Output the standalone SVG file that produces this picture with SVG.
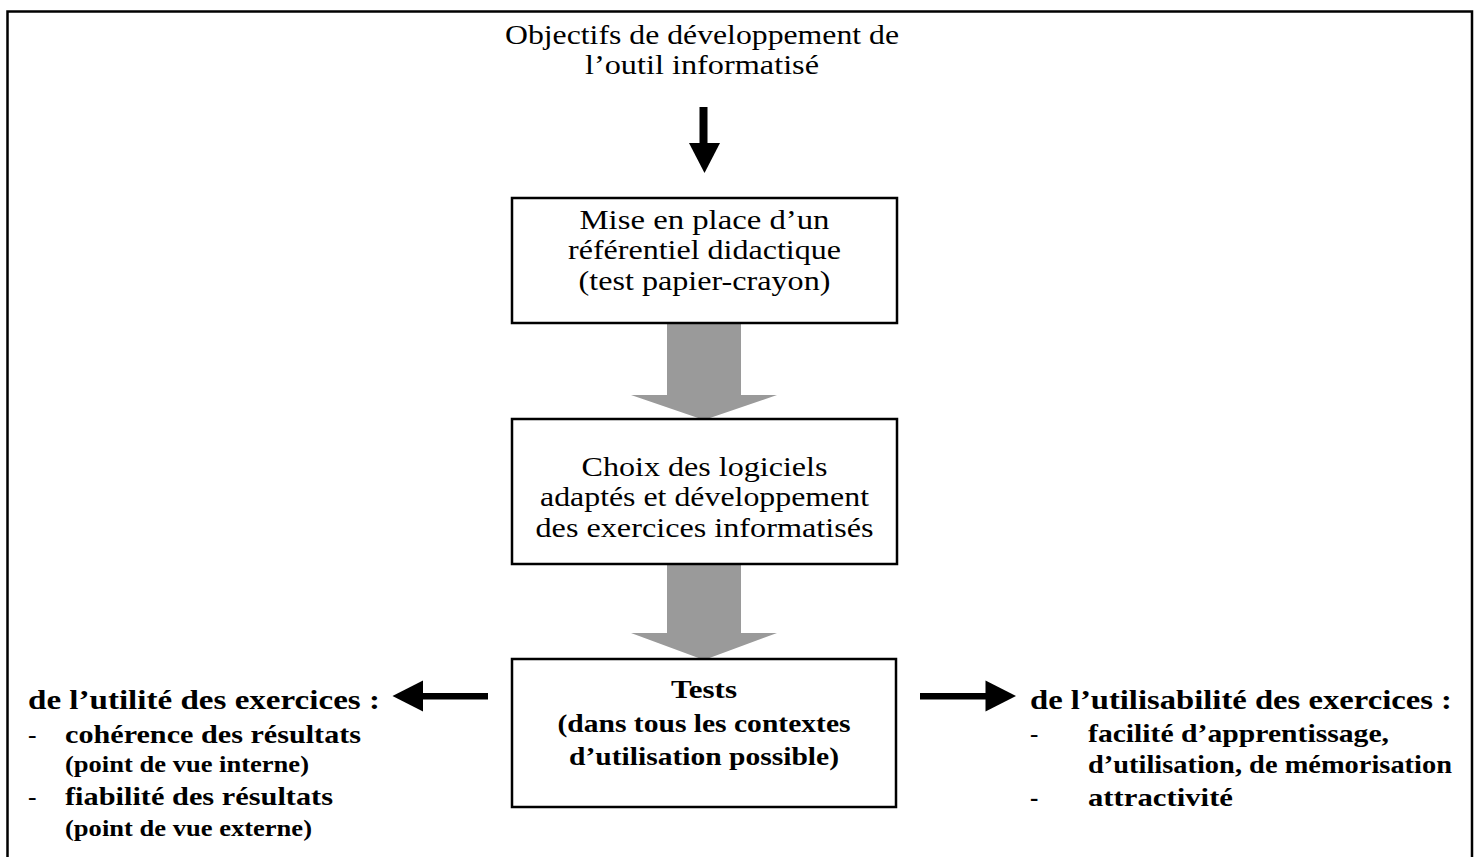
<svg xmlns="http://www.w3.org/2000/svg" width="1476" height="857" viewBox="0 0 1476 857">
<style>
.frame{fill:none;stroke:#000;stroke-width:2.5}
.box{fill:#fff;stroke:#000;stroke-width:2.5}
.t{font-family:"Liberation Serif","Times New Roman",serif;fill:#000}
.r{font-size:27px}
.c{text-anchor:middle}
.b{font-weight:bold}
.bt{font-size:27.5px}
.bi{font-size:25px}
.bl{font-size:25.5px}
.bp{font-size:22.5px}
.nb{font-weight:normal}
.gray{fill:#9a9a9a}
.blk{fill:#000}
</style>
<rect width="1476" height="857" fill="#fff"/>
<path class="frame" d="M7.5,860 V11.5 H1472 V860"/>

<g id="title">
<text class="t r c" x="702" y="44"><tspan x="702" y="44" textLength="394" lengthAdjust="spacingAndGlyphs">Objectifs de développement de</tspan><tspan x="702" y="74" textLength="234" lengthAdjust="spacingAndGlyphs">l’outil informatisé</tspan></text>
</g>

<g id="connectors">
<rect class="blk" x="699.5" y="107" width="8" height="37"/>
<polygon class="blk" points="689,143 720,143 704.5,173"/>
<polygon class="gray" points="667,323 741,323 741,395 777,395 704,420 631,395 667,395"/>
<polygon class="gray" points="667,564 741,564 741,633 777,633 704,660 631,633 667,633"/>
<rect class="blk" x="422" y="693" width="66" height="6.5"/>
<polygon class="blk" points="392.5,696 423,680.5 423,711.5"/>
<rect class="blk" x="920" y="693" width="66" height="6.5"/>
<polygon class="blk" points="985.5,680.5 985.5,711.5 1016,696"/>
</g>

<g id="box1">
<rect class="box" x="512" y="198" width="385" height="125"/>
<text class="t r c"><tspan x="704.5" y="228.5" textLength="250" lengthAdjust="spacingAndGlyphs">Mise en place d’un</tspan><tspan x="704.5" y="259" textLength="273" lengthAdjust="spacingAndGlyphs">référentiel didactique</tspan><tspan x="704.5" y="289.5" textLength="252" lengthAdjust="spacingAndGlyphs">(test papier-crayon)</tspan></text>
</g>

<g id="box2">
<rect class="box" x="512" y="419" width="385" height="145"/>
<text class="t r c"><tspan x="704.5" y="475.5" textLength="246" lengthAdjust="spacingAndGlyphs">Choix des logiciels</tspan><tspan x="704.5" y="506" textLength="329" lengthAdjust="spacingAndGlyphs">adaptés et développement</tspan><tspan x="704.5" y="536.5" textLength="338" lengthAdjust="spacingAndGlyphs">des exercices informatisés</tspan></text>
</g>

<g id="box3">
<rect class="box" x="512" y="659" width="384" height="148"/>
<text class="t b bi c"><tspan x="704" y="698" textLength="66" lengthAdjust="spacingAndGlyphs">Tests</tspan><tspan x="704" y="732" textLength="293" lengthAdjust="spacingAndGlyphs">(dans tous les contextes</tspan><tspan x="704" y="765" textLength="270" lengthAdjust="spacingAndGlyphs">d’utilisation possible)</tspan></text>
</g>

<g id="left">
<text class="t b"><tspan class="bt" x="28" y="709" textLength="352" lengthAdjust="spacingAndGlyphs">de l’utilité des exercices :</tspan><tspan class="bl nb" x="28" y="743">-</tspan><tspan class="bl" x="65" y="743" textLength="296" lengthAdjust="spacingAndGlyphs">cohérence des résultats</tspan><tspan class="bp" x="65" y="772" textLength="244" lengthAdjust="spacingAndGlyphs">(point de vue interne)</tspan><tspan class="bl nb" x="28" y="805">-</tspan><tspan class="bl" x="65" y="805" textLength="268" lengthAdjust="spacingAndGlyphs">fiabilité des résultats</tspan><tspan class="bp" x="65" y="836" textLength="247" lengthAdjust="spacingAndGlyphs">(point de vue externe)</tspan></text>
</g>

<g id="right">
<text class="t b"><tspan class="bt" x="1030" y="709" textLength="422" lengthAdjust="spacingAndGlyphs">de l’utilisabilité des exercices :</tspan><tspan class="bi nb" x="1030" y="742">-</tspan><tspan class="bi" x="1088" y="742" textLength="301" lengthAdjust="spacingAndGlyphs">facilité d’apprentissage,</tspan><tspan class="bi" x="1088" y="773" textLength="364" lengthAdjust="spacingAndGlyphs">d’utilisation, de mémorisation</tspan><tspan class="bi" x="1030" y="806">-</tspan><tspan class="bi" x="1088" y="806" textLength="145" lengthAdjust="spacingAndGlyphs">attractivité</tspan></text>
</g>
</svg>
